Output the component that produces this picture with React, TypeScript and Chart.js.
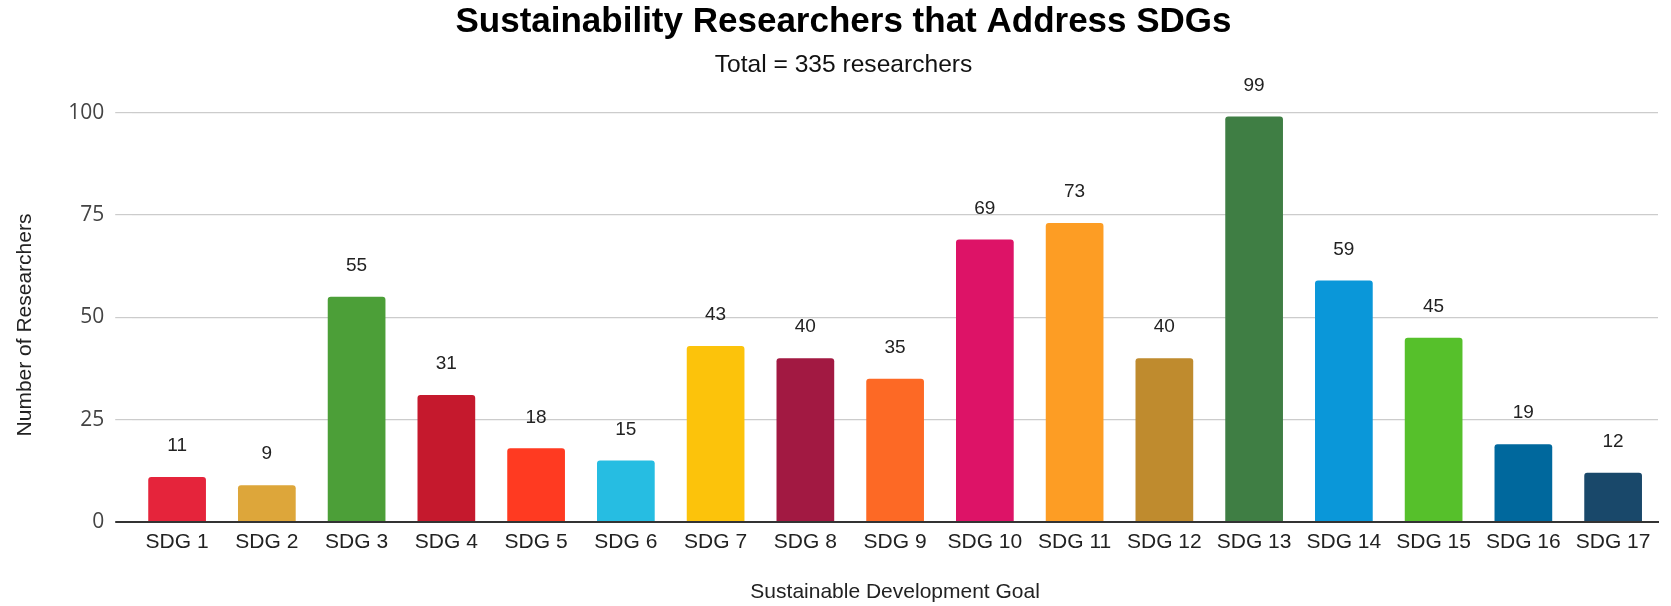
import React, { useEffect, useRef } from "react";
import { Chart, registerables } from "chart.js";

Chart.register(...registerables);

const categories = [
  "SDG 1", "SDG 2", "SDG 3", "SDG 4", "SDG 5", "SDG 6", "SDG 7", "SDG 8", "SDG 9",
  "SDG 10", "SDG 11", "SDG 12", "SDG 13", "SDG 14", "SDG 15", "SDG 16", "SDG 17",
];
const researchers = [11, 9, 55, 31, 18, 15, 43, 40, 35, 69, 73, 40, 99, 59, 45, 19, 12];
const barColors = [
  "#E5243B", "#DDA63A", "#4C9F38", "#C5192D", "#FF3A21", "#26BDE2", "#FCC30B", "#A21942",
  "#FD6925", "#DD1367", "#FD9D24", "#BF8B2E", "#3F7E44", "#0A97D9", "#56C02B", "#00689D", "#19486A",
];
const yTicks = [0, 25, 50, 75, 100];
const titleText = "Sustainability Researchers that Address SDGs";
const subtitleText = "Total = 335 researchers";
const xTitle = "Sustainable Development Goal";
const yTitle = "Number of Researchers";

const SANS = "'Liberation Sans', Arial, sans-serif";
const TITLE_FONT = `bold 35px ${SANS}`;
const SUBTITLE_FONT = `24.6px ${SANS}`;
const AXIS_TITLE_FONT = `21px ${SANS}`;

const valueLabels = {
  id: "valueLabels",
  afterDatasetsDraw(chart: any) {
    const ctx = chart.ctx;
    const meta = chart.getDatasetMeta(0);
    ctx.save();
    ctx.font = `19px ${SANS}`;
    ctx.fillStyle = "#222";
    ctx.textAlign = "center";
    ctx.textBaseline = "middle";
    meta.data.forEach((bar: any, i: number) => {
      ctx.fillText(String(researchers[i]), bar.x, bar.y - 31);
    });
    ctx.restore();
  },
};

const headings = {
  id: "headings",
  afterDraw(chart: any) {
    const ctx = chart.ctx;
    const cx = chart.width / 2 + 8;
    ctx.save();
    ctx.textAlign = "center";
    ctx.textBaseline = "middle";
    ctx.fillStyle = "#000";
    ctx.font = TITLE_FONT;
    ctx.fillText(titleText, cx, 22);
    ctx.fillStyle = "#111";
    ctx.font = SUBTITLE_FONT;
    ctx.fillText(subtitleText, cx, 65);
    ctx.fillStyle = "#222";
    ctx.font = AXIS_TITLE_FONT;
    ctx.translate(25, 325);
    ctx.rotate(-Math.PI / 2);
    ctx.fillText(yTitle, 0, 0);
    ctx.restore();
  },
};

export default function App() {
  const ref = useRef<HTMLCanvasElement>(null);
  useEffect(() => {
    document.body.style.margin = "0";
    const chart = new Chart(ref.current!, {
      type: "bar",
      data: {
        labels: categories,
        datasets: [
          {
            data: researchers,
            backgroundColor: barColors,
            borderRadius: { topLeft: 3, topRight: 3, bottomLeft: 0, bottomRight: 0 },
            borderSkipped: "bottom",
            barPercentage: 0.643,
            categoryPercentage: 1,
          },
        ],
      },
      options: {
        responsive: false,
        animation: false,
        layout: { padding: { left: 0, right: 13, top: 0, bottom: 0 } },
        plugins: {
          legend: { display: false },
          tooltip: { enabled: false },
          title: {
            display: true,
            text: titleText,
            color: "rgba(0,0,0,0)",
            font: { family: SANS, size: 35, weight: "bold" },
            padding: { top: 3, bottom: 4 },
          },
          subtitle: {
            display: true,
            text: subtitleText,
            color: "rgba(0,0,0,0)",
            font: { family: SANS, size: 24.6 },
            padding: { top: 4, bottom: 30 },
          },
        },
        scales: {
          x: {
            grid: { display: false, drawTicks: false },
            border: { display: true, color: "#333", width: 2 },
            ticks: { color: "#222", font: { family: SANS, size: 21 }, padding: 8, maxRotation: 0 },
            title: {
              display: true,
              text: xTitle,
              color: "#222",
              font: { family: SANS, size: 21 },
              padding: { top: 16.6, bottom: 1 },
            },
          },
          y: {
            min: 0,
            max: 100,
            afterBuildTicks(axis: any) {
              axis.ticks = yTicks.map((v) => ({ value: v }));
            },
            grid: {
              color: (c: any) => (c.tick && c.tick.value === 0 ? "#333" : "#cccccc"),
              lineWidth: (c: any) => (c.tick && c.tick.value === 0 ? 2 : 1.2),
              drawTicks: true,
              tickLength: 17,
            },
            border: { display: false },
            ticks: { color: "#444", font: { family: "'Open Sans', sans-serif", size: 21 }, padding: 11 },
            title: {
              display: true,
              text: yTitle,
              color: "rgba(0,0,0,0)",
              font: { family: SANS, size: 21 },
              padding: { top: 12, bottom: 20 },
            },
          },
        },
      },
      plugins: [valueLabels, headings],
    });
    return () => chart.destroy();
  }, []);
  return <canvas ref={ref} width={1671} height={606} />;
}
